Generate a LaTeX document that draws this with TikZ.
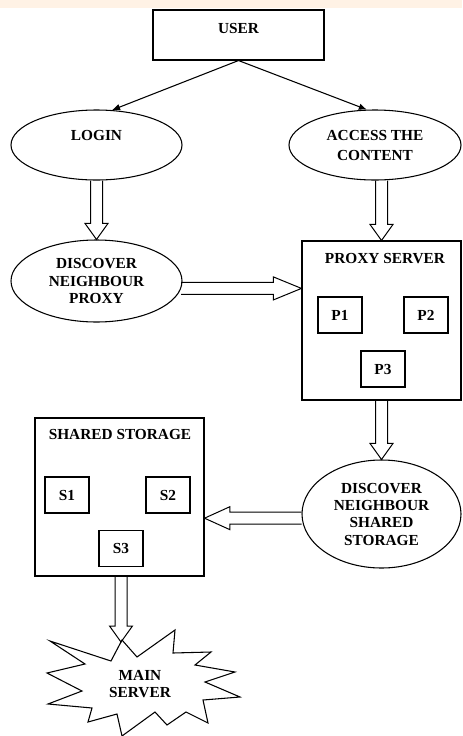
\documentclass[tikz,border=0pt]{standalone}
\usepackage{fontspec}
\setmainfont{Liberation Serif}
\usetikzlibrary{shapes.geometric,arrows.meta,calc}

% hollow block arrow: shaft starts at #2, open head ends at #3, head length #1
\newcommand{\hollowarrow}[3][12pt]{%
  \coordinate (hb) at ($(#3)!#1!(#2)$);
  \draw[fatarrow] ($(#2)!4.5pt!90:(#3)$) -- ($(hb)!4.5pt!90:(#3)$) -- ($(hb)!8.6pt!90:(#3)$) -- (#3)
    -- ($(hb)!8.6pt!-90:(#3)$) -- ($(hb)!4.5pt!-90:(#3)$) -- ($(#2)!4.5pt!-90:(#3)$);
}

\begin{document}
\begin{tikzpicture}[x=0.75pt, y=-0.75pt,
    txt/.style={font=\bfseries\fontsize{11.5}{13}\selectfont, align=center},
    box/.style={draw, line width=0.8pt, rectangle, inner sep=0pt, txt},
    oval/.style={draw, line width=0.8pt, ellipse, inner sep=0pt, txt},
    unit/.style={draw, line width=0.8pt, minimum width=33pt, minimum height=27pt, inner sep=0pt, txt},
    fatarrow/.style={line width=0.75pt, line join=miter},
    link/.style={line width=0.8pt, -{Latex[length=6pt,width=5pt]}}]
  % page
  \fill[white] (0,0) rectangle (462,736);
  \useasboundingbox (0,0) rectangle (462,736);
  \fill[orange!10] (0,0) rectangle (462,8);
  % Nodes
  \node[box, minimum width=128.25pt, minimum height=37.5pt] (user) at (238.5,35) {USER\\[-7.5pt] \strut};
  \node[oval, minimum width=128.25pt, minimum height=52.5pt] (login) at (96.5,145) {LOGIN\\[-2pt] \strut};
  \node[oval, minimum width=129pt, minimum height=52.5pt] (access) at (375,145) {ACCESS THE\\[2pt] CONTENT};
  \node[oval, minimum width=128.25pt, minimum height=61.5pt] (disc) at (96.5,281) {DISCOVER\\NEIGHBOUR\\PROXY};
  \node[box, minimum width=119.25pt, minimum height=119.25pt] (proxy) at (381.5,320.5) {};
  \node[txt] (proxyTitle) at (385,259) {PROXY SERVER};
  \node[unit] (p1) at (340,315) {P1};
  \node[unit] (p2) at (426,315) {P2};
  \node[unit] (p3) at (383,369) {P3};
  \node[oval, minimum width=119.25pt, minimum height=81pt] (shdisc) at (381.5,514) {DISCOVER\\NEIGHBOUR\\SHARED\\STORAGE};
  \node[box, minimum width=126.75pt, minimum height=118.5pt] (shared) at (119.5,497) {};
  \node[txt] (sharedTitle) at (120,434) {SHARED STORAGE};
  \node[unit] (s1) at (67,495) {S1};
  \node[unit] (s2) at (168,495) {S2};
  \node[unit] (s3) at (121,548.5) {S3};
  % main server burst
  \draw[line width=0.8pt, line join=miter] (50,641) -- (111,661) -- (122,640) -- (137,657) -- (175,630)
    -- (173,653) -- (211,652) -- (195,665) -- (235,672) -- (205,682) -- (240,697) -- (203,700)
    -- (208,723) -- (186,712) -- (167,725) -- (155,712) -- (122,736) -- (117,714) -- (88,722)
    -- (92,708) -- (48,704) -- (82,691) -- (47,673) -- (85,664) -- cycle;
  \node[txt] (main) at (140,684) {MAIN\\SERVER};
  \coordinate (mainTip) at (121,642);
  % Edges
  \draw[link] (user.south) -- (login.66);
  \draw[link] (user.south) -- (access.103);
  \hollowarrow{login.south}{disc.north}
  \coordinate (accOut) at (proxy.north |- access.south);
  \hollowarrow{accOut}{proxy.north}
  \coordinate (pxIn) at (proxy.west |- disc.-5);
  \hollowarrow[21pt]{disc.-5}{pxIn}
  \hollowarrow{proxy.south}{shdisc.north}
  \coordinate (shIn) at (shared.east |- shdisc.183);
  \hollowarrow[19pt]{shdisc.183}{shIn}
  \coordinate (shOut) at (shared.south -| mainTip);
  \hollowarrow{shOut}{mainTip}
\end{tikzpicture}
\end{document}
